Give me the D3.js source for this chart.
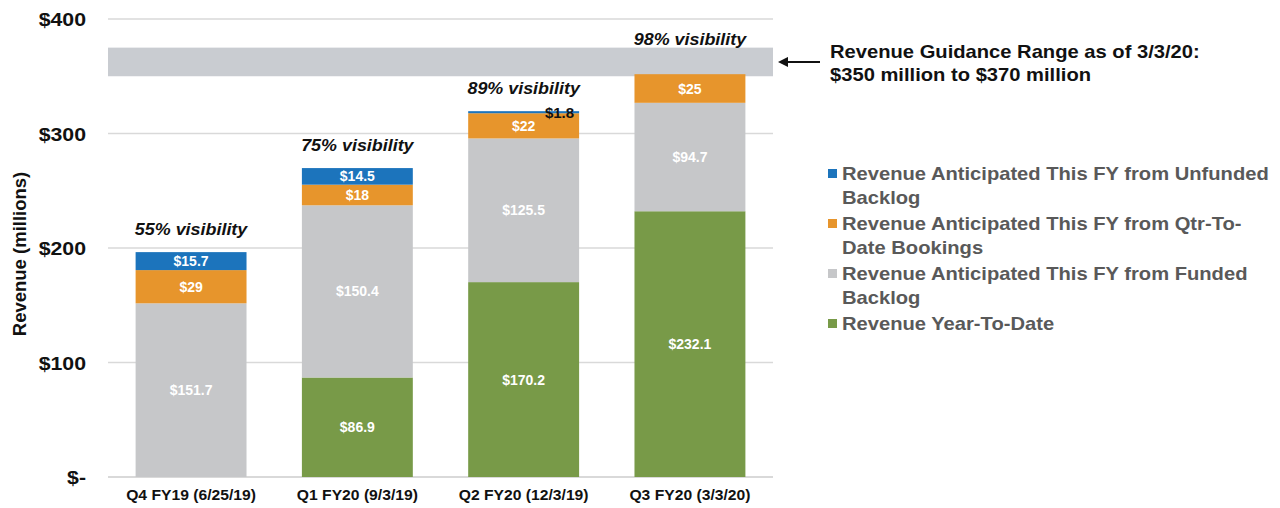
<!DOCTYPE html>
<html>
<head>
<meta charset="utf-8">
<script src="https://cdn.jsdelivr.net/npm/d3@7"></script>
<style>
  body { margin: 0; background: #fff; }
  text { font-family: "Liberation Sans", Arial, sans-serif; }
</style>
</head>
<body>
<svg id="chart" width="1280" height="508"></svg>
<script>
var quarters = ["Q4 FY19 (6/25/19)", "Q1 FY20 (9/3/19)", "Q2 FY20 (12/3/19)", "Q3 FY20 (3/3/20)"];
var ytd      = [0, 86.9, 170.2, 232.1];
var funded   = [151.7, 150.4, 125.5, 94.7];
var qtd      = [29, 18, 22, 25];
var unfunded = [15.7, 14.5, 1.8, 0];
var visibility = ["55% visibility", "75% visibility", "89% visibility", "98% visibility"];
var guidance = [350, 370];
var guidanceBand = [350, 375]; // as drawn on the slide
var yTicks = [0, 100, 200, 300, 400];

var seriesKeys = ["ytd", "funded", "qtd", "unfunded"];
var seriesNames = {
  unfunded: ["Revenue Anticipated This FY from Unfunded", "Backlog"],
  qtd: ["Revenue Anticipated This FY from Qtr-To-", "Date Bookings"],
  funded: ["Revenue Anticipated This FY from Funded", "Backlog"],
  ytd: ["Revenue Year-To-Date"]
};
var colors = { ytd: "#789a48", funded: "#c6c7c9", qtd: "#e7952c", unfunded: "#1c74bc" };

var rows = quarters.map(function(q, i) {
  return { q: q, ytd: ytd[i], funded: funded[i], qtd: qtd[i], unfunded: unfunded[i] };
});

var pLeft = 108, pRight = 773, pTop = 19, pBottom = 477;
var sx = 1.12; // the slide text is a bit wide

// place text at x,y, widened a little
function at(fx, fy) {
  return function(d, i) {
    var xx = typeof fx === "function" ? fx(d, i) : fx,
        yy = typeof fy === "function" ? fy(d, i) : fy;
    return "translate(" + xx + "," + yy + ")scale(" + sx + ",1)";
  };
}

var svg = d3.select("#chart");

var x = d3.scaleBand().domain(quarters).range([pLeft, pRight]).paddingInner(0.333).paddingOuter(0.166);
var y = d3.scaleLinear().domain([0, 400]).range([pBottom, pTop]);

// gridlines
svg.append("g").selectAll("line")
    .data(yTicks)
  .enter().append("line")
    .attr("x1", pLeft).attr("x2", pRight)
    .attr("y1", function(d) { return y(d); })
    .attr("y2", function(d) { return y(d); })
    .attr("stroke", "#d9d9d9")
    .attr("stroke-width", function(d) { return d === 0 ? 2 : 1.5; });

// y labels
svg.append("g").selectAll("text")
    .data(yTicks)
  .enter().append("text")
    .attr("transform", at(86, function(d) { return y(d) + 7; }))
    .attr("text-anchor", "end")
    .attr("font-size", 19)
    .attr("font-weight", "bold")
    .attr("fill", "#111")
    .text(function(d) { return d === 0 ? "$-" : "$" + d; });

svg.append("text")
    .attr("transform", "translate(26,254)rotate(-90)")
    .attr("text-anchor", "middle")
    .attr("font-size", 18.5)
    .attr("font-weight", "bold")
    .attr("fill", "#111")
    .text("Revenue (millions)");

// guidance band
svg.append("rect")
    .attr("x", pLeft)
    .attr("width", pRight - pLeft)
    .attr("y", y(guidanceBand[1]))
    .attr("height", y(guidanceBand[0]) - y(guidanceBand[1]))
    .attr("fill", "#c9ccd1");

// stacked bars
var stack = d3.stack().keys(seriesKeys)(rows);

var layers = svg.append("g").selectAll("g.layer")
    .data(stack)
  .enter().append("g")
    .attr("class", "layer")
    .attr("fill", function(d) { return colors[d.key]; });

layers.selectAll("rect")
    .data(function(d) { return d; })
  .enter().append("rect")
    .attr("x", function(d) { return x(d.data.q); })
    .attr("width", x.bandwidth())
    .attr("y", function(d) { return y(d[1]); })
    .attr("height", function(d) { return y(d[0]) - y(d[1]); });

// segment labels
layers.each(function(layer) {
  d3.select(this).selectAll("text")
      .data(layer.filter(function(d) { return d[1] - d[0] > 0; }))
    .enter().append("text")
      .attr("text-anchor", function(d) { return d[1] - d[0] < 5 ? "end" : "middle"; })
      .attr("x", function(d) {
        return d[1] - d[0] < 5 ? x(d.data.q) + x.bandwidth() - 5 : x(d.data.q) + x.bandwidth() / 2;
      })
      .attr("y", function(d) {
        return d[1] - d[0] < 5 ? y(d[1]) + 7 : y((d[0] + d[1]) / 2) + 5;
      })
      .attr("font-size", function(d) { return d[1] - d[0] < 5 ? 15 : 14; })
      .attr("font-weight", "bold")
      .attr("fill", function(d) { return d[1] - d[0] < 5 ? "#111" : "#fff"; })
      .text(function(d) { return "$" + (d[1] - d[0]).toFixed(1).replace(/\.0$/, ""); });
});

// visibility labels
svg.append("g").selectAll("text")
    .data(rows)
  .enter().append("text")
    .attr("transform", at(function(d) { return x(d.q) + x.bandwidth() / 2; }, function(d) {
      var t = d.ytd + d.funded + d.qtd + d.unfunded;
      return t > guidance[0] ? y(guidanceBand[1]) - 3 : y(t) - 17;
    }))
    .attr("text-anchor", "middle")
    .attr("font-size", 16)
    .attr("font-weight", "bold")
    .attr("font-style", "italic")
    .attr("fill", "#111")
    .text(function(d, i) { return visibility[i]; });

// x labels
svg.append("g").selectAll("text")
    .data(quarters)
  .enter().append("text")
    .attr("transform", at(function(d) { return x(d) + x.bandwidth() / 2; }, 500))
    .attr("text-anchor", "middle")
    .attr("font-size", 14)
    .attr("font-weight", "bold")
    .attr("fill", "#111")
    .text(function(d) { return d; });

// guidance annotation
svg.append("defs").append("marker")
    .attr("id", "arrow")
    .attr("viewBox", "0 0 10 10")
    .attr("refX", 8).attr("refY", 5)
    .attr("markerWidth", 5).attr("markerHeight", 5)
    .attr("orient", "auto")
  .append("path")
    .attr("d", "M0,0L10,5L0,10z")
    .attr("fill", "#111");

var ay = (y(guidanceBand[0]) + y(guidanceBand[1])) / 2;
svg.append("line")
    .attr("x1", 820).attr("x2", 780)
    .attr("y1", ay).attr("y2", ay)
    .attr("stroke", "#111")
    .attr("stroke-width", 2)
    .attr("marker-end", "url(#arrow)");

svg.append("text")
    .attr("transform", at(830, 58))
    .attr("font-size", 18)
    .attr("font-weight", "bold")
    .attr("fill", "#111")
    .text("Revenue Guidance Range as of 3/3/20:");
svg.append("text")
    .attr("transform", at(830, 81))
    .attr("font-size", 18)
    .attr("font-weight", "bold")
    .attr("fill", "#111")
    .text("$" + guidance[0] + " million to $" + guidance[1] + " million");

// legend
var legendOrder = ["unfunded", "qtd", "funded", "ytd"];
var ly = 180;
legendOrder.forEach(function(k) {
  svg.append("rect")
      .attr("x", 828).attr("y", ly - 11)
      .attr("width", 9).attr("height", 9)
      .attr("fill", colors[k]);
  seriesNames[k].forEach(function(line, j) {
    svg.append("text")
        .attr("transform", at(842, ly + j * 24))
        .attr("font-size", 18)
        .attr("font-weight", "bold")
        .attr("fill", "#595959")
        .text(line);
  });
  ly += seriesNames[k].length * 24 + 2;
});
</script>
</body>
</html>
